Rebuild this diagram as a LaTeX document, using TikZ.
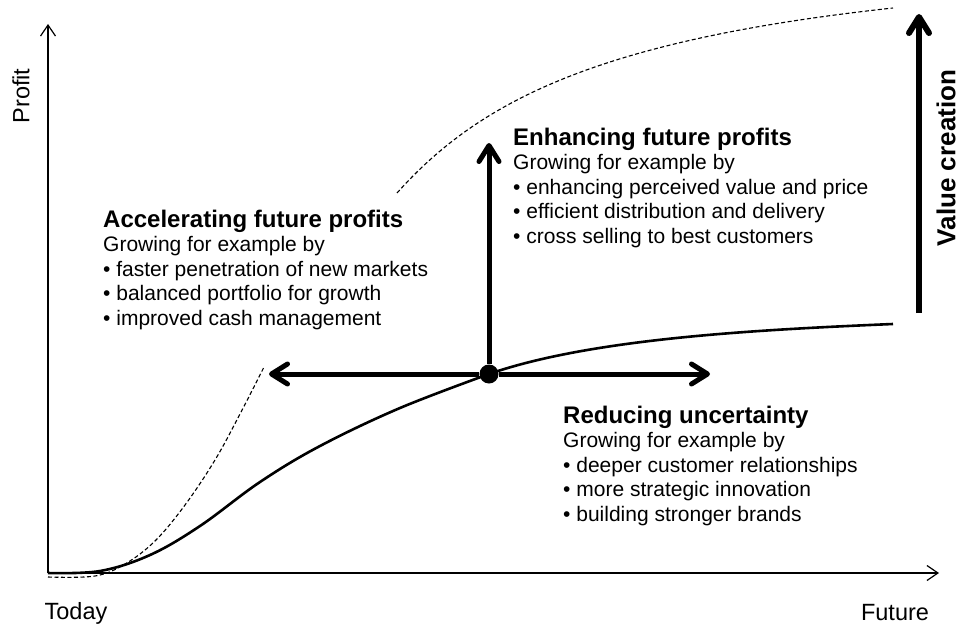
\documentclass[tikz,border=0pt]{standalone}
\usepackage{fontspec}
\setmainfont{Liberation Sans}
\usetikzlibrary{arrows.meta}

\newcommand{\blocktitle}[1]{{\fontsize{24}{24.5}\selectfont\bfseries #1}}

\tikzset{
    axisline/.style={line width=1.2pt, -{Straight Barb[length=11pt,width=15pt]}},
    profitcurve/.style={line width=2.6pt},
    scenario/.style={line width=1.1pt, dash pattern=on 4pt off 2.5pt},
    movearrow/.style={line width=5pt, -{Straight Barb[length=16pt,width=20pt,round]}},
    axislabel/.style={font=\fontsize{23.5}{26}\selectfont, inner sep=0pt},
    textblock/.style={font=\fontsize{21}{24.5}\selectfont, align=left, inner sep=0pt}
}

\begin{document}
\begin{tikzpicture}[x=1pt, y=-1pt]
    \useasboundingbox (0,0) rectangle (960,626);

    % axes
    \coordinate (origin) at (48,573);
    \coordinate (ytop) at (48,24);
    \coordinate (xend) at (939,573);
    \draw[axisline] (origin) -- (ytop);
    \draw[axisline] (origin) -- (xend);
    \node[axislabel, rotate=90] (profit) at (21,96) {Profit};
    \node[axislabel] (today) at (76,613) {Today};
    \node[axislabel] (future) at (895,613) {Future};

    % curves
    \draw[scenario]
        plot[smooth, tension=0.6] coordinates {(48,577) (95,576) (125,564) (155,541)
            (185,505) (215,460) (240,414) (264,367)};
    \draw[scenario] (397,193) .. controls (480,100) and (600,40) .. (893,8);
    \draw[profitcurve]
        plot[smooth, tension=0.6] coordinates {(48,573) (100,571) (150,555) (200,526)
            (260,482) (320,446) (400,408) (489,374)}
        .. controls (590,339) and (750,330) .. (893,324);

    % moves from today's position
    \node[circle, fill, inner sep=0pt, minimum size=19pt] (hub) at (489,374) {};
    \coordinate (west) at (269,374);
    \coordinate (east) at (710,374);
    \coordinate (north) at (489,143);
    \draw[movearrow] (hub) -- (west);
    \draw[movearrow] (hub) -- (east);
    \draw[movearrow] (hub) -- (north);

    % value creation
    \coordinate (vbase) at (919,313);
    \coordinate (vtop) at (919,14);
    \draw[movearrow, line width=6pt] (vbase) -- (vtop);
    \node[rotate=90, inner sep=0pt, font=\fontsize{26}{28}\selectfont\bfseries]
        (value) at (946,158) {Value creation};

    % text blocks (anchored at the baseline of the last line)
    \node[textblock, anchor=base west] (accel) at (103,325)
        {\blocktitle{Accelerating future profits}\\
         Growing for example by\\
         • faster penetration of new markets\\
         • balanced portfolio for growth\\
         • improved cash management};
    \node[textblock, anchor=base west] (enhance) at (513,243)
        {\blocktitle{Enhancing future profits}\\
         Growing for example by\\
         • enhancing perceived value and price\\
         • efficient distribution and delivery\\
         • cross selling to best customers};
    \node[textblock, anchor=base west] (reduce) at (563,521)
        {\blocktitle{Reducing uncertainty}\\
         Growing for example by\\
         • deeper customer relationships\\
         • more strategic innovation\\
         • building stronger brands};
\end{tikzpicture}
\end{document}
